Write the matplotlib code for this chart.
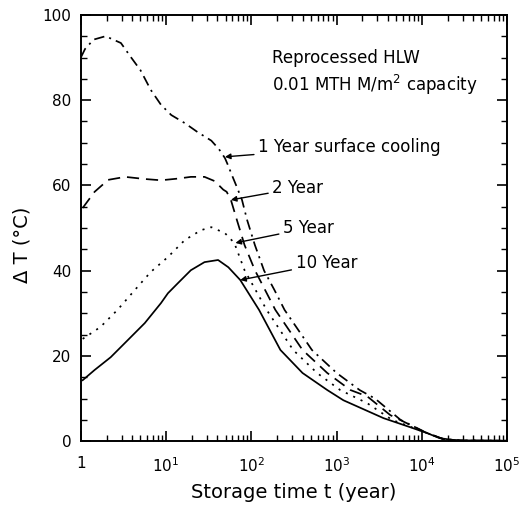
import matplotlib
matplotlib.use("Agg")
import matplotlib.pyplot as plt
from matplotlib.ticker import LogLocator, MultipleLocator, FixedLocator, FixedFormatter, NullFormatter

# ---- data (storage time in years, temperature rise in degC) ----
t_1yr = [1.0, 1.12, 1.41, 1.95, 2.95, 3.89, 5.01, 6.61, 8.71, 11.5, 16.6, 23.4, 33.9,
         41.7, 49.0, 52.5, 60.3, 67.6, 77.6, 89.1, 110, 141, 186, 245, 513, 1000,
         1860, 2820, 5620, 11200, 17800, 28200, 100000]
dT_1yr = [90, 92, 94.2, 95, 93.4, 90, 87, 82.4, 78.9, 76.5, 74.6, 72.5, 70.5,
          68.5, 66.4, 65, 62, 59.6, 56.6, 51.9, 46, 40, 35.5, 30.8, 21.4, 16,
          12, 10, 5, 2, 0.5, 0.15, 0.1]

t_2yr = [1.05, 1.45, 2.09, 3.31, 5.62, 8.71, 13.8, 19.5, 28.2, 37.2, 46.8, 51.3,
         57.5, 67.6, 83.2, 110, 191, 398, 776, 1450, 2290, 4270, 11200, 17800,
         28200, 100000]
dT_2yr = [54.7, 58.5, 61.3, 62, 61.5, 61.2, 61.6, 62, 62, 61, 59, 58.5,
          56.6, 51.9, 46, 40.1, 30.8, 21.4, 16, 12, 10.5, 6.1, 2, 0.5,
          0.15, 0.1]

t_5yr = [1.05, 1.15, 1.70, 2.69, 4.27, 6.61, 10.5, 16.6, 25.7, 33.9, 49.0, 63.1,
         83.2, 151, 309, 589, 1100, 2290, 4470, 11200, 17800, 28200, 100000]
dT_5yr = [24, 24.5, 26.8, 30.8, 35.4, 39.7, 43.2, 47.2, 49.5, 50.2, 48.8, 46.5,
          40.1, 30.8, 21.4, 16, 12, 8.9, 5, 2, 0.5, 0.15, 0.1]

t_10yr = [1.05, 1.45, 2.24, 3.55, 5.62, 8.71, 10.5, 13.8, 19.5, 28.2, 40.7, 53.7,
          74.1, 123, 219, 398, 776, 1200, 3550, 7240, 11500, 16200, 25100, 100000]
dT_10yr = [14.3, 16.7, 19.7, 23.7, 27.7, 32.4, 34.7, 37.1, 40.1, 42, 42.5, 40.8,
           37.8, 30.8, 21.4, 16, 12, 9.6, 5.4, 3.3, 1.9, 0.7, 0.2, 0.1]

labels = ["1 Year surface cooling", "2 Year", "5 Year", "10 Year"]
label_text_pos = [(120, 69.0), (176, 59.4), (235, 50.0), (330, 41.8)]
label_arrow_pos = [(49, 66.7), (57.5, 56.6), (65, 46.5), (74, 37.8)]

x_ticks = [1, 10, 100, 1000, 10000, 100000]
x_ticklabels = ["1", r"10$^1$", r"10$^2$", r"10$^3$", r"10$^4$", r"10$^5$"]
y_ticks = [0, 20, 40, 60, 80, 100]

# ---- figure ----
fig = plt.figure(figsize=(5.25, 5.13), dpi=100)
ax = fig.add_axes([0.154, 0.140, 0.812, 0.831])

lw = 1.25
ax.plot(t_1yr, dT_1yr, color="black", lw=lw, dashes=(6, 3, 1.2, 3))
ax.plot(t_2yr, dT_2yr, color="black", lw=lw, dashes=(7, 4))
ax.plot(t_5yr, dT_5yr, color="black", lw=lw, dashes=(1.2, 3.5))
ax.plot(t_10yr, dT_10yr, color="black", lw=lw, linestyle="-")

ax.set_xscale("log")
ax.set_xlim(1, 1e5)
ax.set_ylim(0, 100)

ax.xaxis.set_major_locator(FixedLocator(x_ticks))
ax.xaxis.set_major_formatter(FixedFormatter(x_ticklabels))
ax.xaxis.set_minor_locator(LogLocator(base=10, subs=range(2, 10), numticks=20))
ax.xaxis.set_minor_formatter(NullFormatter())
ax.yaxis.set_major_locator(FixedLocator(y_ticks))
ax.yaxis.set_minor_locator(MultipleLocator(5))

ax.tick_params(which="both", direction="in", top=True, right=True, labelsize=11)
ax.tick_params(which="major", length=7, width=1.2)
ax.tick_params(which="minor", length=4, width=1.0)
ax.tick_params(axis="x", which="major", pad=11)
ax.tick_params(axis="y", which="major", pad=7)
for s in ax.spines.values():
    s.set_linewidth(1.4)

ax.set_xlabel("Storage time t (year)", fontsize=14, labelpad=6)
ax.set_ylabel("Δ T (°C)", fontsize=14)
ax.yaxis.set_label_coords(-0.115, 0.46)

ax.text(0.448, 0.899, "Reprocessed HLW", transform=ax.transAxes, fontsize=12,
        va="center", ha="left")
ax.text(0.448, 0.836, "0.01 MTH M/m$^2$ capacity", transform=ax.transAxes, fontsize=12,
        va="center", ha="left")

for lab, tp, ap in zip(labels, label_text_pos, label_arrow_pos):
    ax.annotate(lab, xy=ap, xytext=tp, fontsize=12, va="center", ha="left",
                arrowprops=dict(arrowstyle="-|>", color="black", lw=1.0,
                                mutation_scale=8, shrinkA=1, shrinkB=0))

fig.savefig("out.png", dpi=100)
